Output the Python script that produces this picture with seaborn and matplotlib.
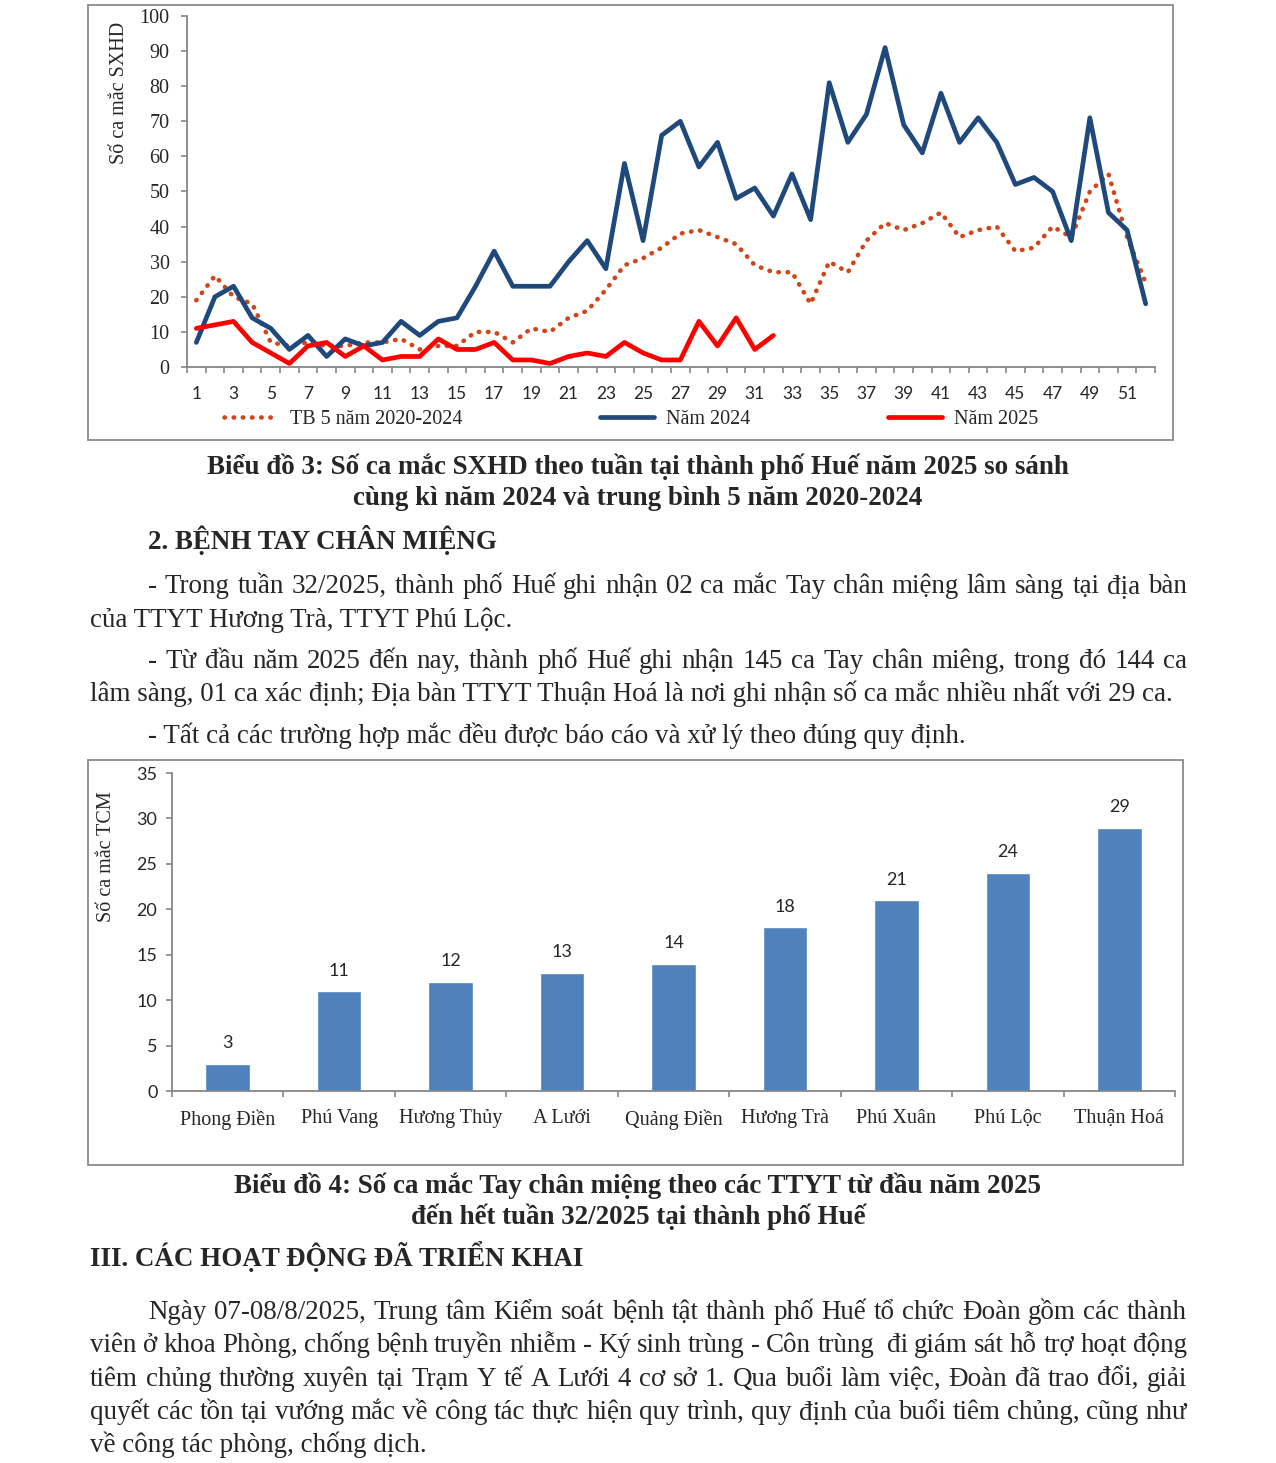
import matplotlib
matplotlib.use("Agg")
import matplotlib.pyplot as plt
from matplotlib.patches import Rectangle
import numpy as np
import pandas as pd
import seaborn as sns

W, H = 1276, 1463

# --- data: chart 3 (dengue cases by week) ---
weeks = list(range(1, 53))
avg_5y = [19, 26, 20, 18, 7, 6, 7, 6, 6, 7, 7, 8, 5, 6, 6, 10, 10, 7, 11, 10,
          14, 16, 22, 29, 31, 34, 38, 39, 37, 35, 29, 27, 27, 18, 30, 27, 36, 41,
          39, 41, 44, 37, 39, 40, 33, 34, 40, 37, 50, 55, 37, 24]
cases_2024 = [7, 20, 23, 14, 11, 5, 9, 3, 8, 6, 7, 13, 9, 13, 14, 23, 33, 23, 23, 23,
              30, 36, 28, 58, 36, 66, 70, 57, 64, 48, 51, 43, 55, 42, 81, 64, 72, 91,
              69, 61, 78, 64, 71, 64, 52, 54, 50, 36, 71, 44, 39, 18]
cases_2025 = [11, 12, 13, 7, 4, 1, 6, 7, 3, 6, 2, 3, 3, 8, 5, 5, 7, 2, 2, 1,
              3, 4, 3, 7, 4, 2, 2, 13, 6, 14, 5, 9]
series_names = ["TB 5 năm 2020-2024", "Năm 2024", "Năm 2025"]

# --- data: chart 4 (hand-foot-mouth cases by health centre) ---
districts = ["Phong Điền", "Phú Vang", "Hương Thủy", "A Lưới", "Quảng Điền",
             "Hương Trà", "Phú Xuân", "Phú Lộc", "Thuận Hoá"]
hfmd_cases = [3, 11, 12, 13, 14, 18, 21, 24, 29]

SERIF = "Liberation Serif"
SANS = "Lato"
GRID = "#868686"

sns.set_theme(style="white")
plt.rcParams["font.family"] = [SERIF, "DejaVu Sans"]

fig = plt.figure(figsize=(W / 100, H / 100), dpi=100)
renderer = fig.canvas.get_renderer()


def fx(px):
    return px / W


def fy(py):
    return 1 - py / H


def axes_box(left, top, right, bottom):
    return fig.add_axes([fx(left), fy(bottom), (right - left) / W, (bottom - top) / H])


def frame(left, top, right, bottom):
    fig.add_artist(Rectangle((fx(left), fy(bottom)), (right - left) / W, (bottom - top) / H,
                             transform=fig.transFigure, fill=False,
                             edgecolor="#8a8a8a", lw=1.3))


def text_width(s, **kw):
    t = fig.text(0, 0, s, **kw)
    w = t.get_window_extent(renderer).width
    t.remove()
    return w


def fit_size(s, target, **kw):
    return 10 * target / text_width(s, fontsize=10, **kw)


def put(s, x, y, **kw):
    fig.text(fx(x), fy(y), s, va="baseline", **kw)


def justified(line, x0, x1, y, **kw):
    words = line.split(" ")
    widths = [text_width(w, **kw) for w in words]
    gap = (x1 - x0 - sum(widths)) / (len(words) - 1)
    x = x0
    for w, wd in zip(words, widths):
        put(w, x, y, ha="left", **kw)
        x += wd + gap


def style_axis(ax):
    for s in ["top", "right"]:
        ax.spines[s].set_visible(False)
    for s in ["left", "bottom"]:
        ax.spines[s].set_color(GRID)
        ax.spines[s].set_linewidth(1.3)
    ax.set_xlabel("")
    ax.set_ylabel("")


# ---------------- chart 3 ----------------
frame(88, 5, 1173, 440)
ax1 = axes_box(187, 16, 1155, 367)

df_avg = pd.DataFrame({"week": weeks, "cases": avg_5y})
df_24 = pd.DataFrame({"week": weeks, "cases": cases_2024})
df_25 = pd.DataFrame({"week": weeks[:len(cases_2025)], "cases": cases_2025})

sns.lineplot(data=df_avg, x="week", y="cases", ax=ax1, color="#D0461A", lw=3.3,
             linestyle=(0, (0.1, 1.9)), dash_capstyle="round", label=series_names[0])
sns.lineplot(data=df_24, x="week", y="cases", ax=ax1, color="#1F497D", lw=3.4,
             label=series_names[1])
sns.lineplot(data=df_25, x="week", y="cases", ax=ax1, color="#FF0000", lw=3.4,
             label=series_names[2])

handles, labels = ax1.get_legend_handles_labels()
if ax1.get_legend() is not None:
    ax1.get_legend().remove()

ax1.set_xlim(0.5, 52.5)
ax1.set_ylim(0, 100)
style_axis(ax1)
ax1.set_xticks(weeks[::2])
ax1.set_xticklabels([str(w) for w in weeks[::2]], fontfamily=SANS, fontsize=12.5)
ax1.set_xticks(np.arange(0.5, 53, 1), minor=True)
ax1.tick_params(axis="x", which="major", length=0, pad=14)
ax1.tick_params(axis="x", which="minor", length=4.5, width=1.2, color=GRID, bottom=True)
ax1.set_yticks(range(0, 101, 10))
ax1.tick_params(axis="y", length=4.5, width=1.2, color=GRID, left=True, pad=8,
                labelsize=14.5)

fig.text(fx(120), fy(93), "Số ca mắc SXHD", rotation=90, ha="center", va="center",
         fontsize=14.5)

fig.legend(handles, labels, loc="center left", bbox_to_anchor=(fx(224), fy(419)),
           ncol=3, frameon=False, handlelength=2.7, handletextpad=0.6,
           columnspacing=6.8, borderpad=0, borderaxespad=0,
           prop={"family": SERIF, "size": 14.5})

# ---------------- chart 4 ----------------
frame(88, 760, 1183, 1165)
ax2 = axes_box(172, 773, 1175, 1091)
sns.barplot(x=districts, y=hfmd_cases, color="#4F81BD", saturation=1, width=0.4, ax=ax2)
ax2.bar_label(ax2.containers[0], padding=9, fontsize=13, fontfamily=SANS)
ax2.set_xlim(-0.5, len(districts) - 0.5)
ax2.set_ylim(0, 35)
style_axis(ax2)
ax2.set_xticks(range(len(districts)))
ax2.set_xticklabels(districts, fontsize=14.5)
ax2.set_xticks(np.arange(-0.5, len(districts), 1), minor=True)
ax2.tick_params(axis="x", which="major", length=0, pad=13)
ax2.tick_params(axis="x", which="minor", length=4.5, width=1.2, color=GRID, bottom=True)
ax2.set_yticks(range(0, 36, 5))
ax2.set_yticklabels([str(v) for v in range(0, 36, 5)], fontfamily=SANS, fontsize=13)
ax2.tick_params(axis="y", length=4.5, width=1.2, color=GRID, left=True, pad=6)

fig.text(fx(107), fy(857), "Số ca mắc TCM", rotation=90, ha="center", va="center",
         fontsize=14.5)

# ---------------- page text ----------------
body = fit_size("- Tất cả các trường hợp mắc đều được báo cáo và xử lý theo đúng quy định.", 820)
bold = fit_size("Biểu đồ 3: Số ca mắc SXHD theo tuần tại thành phố Huế năm 2025 so sánh", 865,
                fontweight="bold")
bkw = {"fontsize": bold, "fontweight": "bold"}
tkw = {"fontsize": body}

put("Biểu đồ 3: Số ca mắc SXHD theo tuần tại thành phố Huế năm 2025 so sánh", 638, 474,
    ha="center", **bkw)
put("cùng kì năm 2024 và trung bình 5 năm 2020-2024", 638, 505, ha="center", **bkw)
put("2. BỆNH TAY CHÂN MIỆNG", 148, 549, ha="left", **bkw)

justified("- Trong tuần 32/2025, thành phố Huế ghi nhận 02 ca mắc Tay chân miệng lâm sàng tại địa bàn",
          148, 1187, 593, **tkw)
put("của TTYT Hương Trà, TTYT Phú Lộc.", 90, 627, ha="left", **tkw)
justified("- Từ đầu năm 2025 đến nay, thành phố Huế ghi nhận 145 ca Tay chân miêng, trong đó 144 ca",
          148, 1187, 668, **tkw)
put("lâm sàng, 01 ca xác định; Địa bàn TTYT Thuận Hoá là nơi ghi nhận số ca mắc nhiều nhất với 29 ca.",
    90, 701, ha="left", **tkw)
put("- Tất cả các trường hợp mắc đều được báo cáo và xử lý theo đúng quy định.", 148, 743,
    ha="left", **tkw)

put("Biểu đồ 4: Số ca mắc Tay chân miệng theo các TTYT từ đầu năm 2025", 638, 1193,
    ha="center", **bkw)
put("đến hết tuần 32/2025 tại thành phố Huế", 638, 1224, ha="center", **bkw)
put("III. CÁC HOẠT ĐỘNG ĐÃ TRIỂN KHAI", 90, 1266, ha="left", **bkw)

justified("Ngày 07-08/8/2025, Trung tâm Kiểm soát bệnh tật thành phố Huế tổ chức Đoàn gồm các thành",
          148, 1187, 1319, **tkw)
justified("viên ở khoa Phòng, chống bệnh truyền nhiễm - Ký sinh trùng - Côn trùng  đi giám sát hỗ trợ hoạt động",
          90, 1187, 1352, **tkw)
justified("tiêm chủng thường xuyên tại Trạm Y tế A Lưới 4 cơ sở 1. Qua buổi làm việc, Đoàn đã trao đổi, giải",
          90, 1187, 1386, **tkw)
justified("quyết các tồn tại vướng mắc về công tác thực hiện quy trình, quy định của buổi tiêm chủng, cũng như",
          90, 1187, 1419, **tkw)
put("về công tác phòng, chống dịch.", 90, 1452, ha="left", **tkw)

fig.savefig("out.png", dpi=100, facecolor="white")
